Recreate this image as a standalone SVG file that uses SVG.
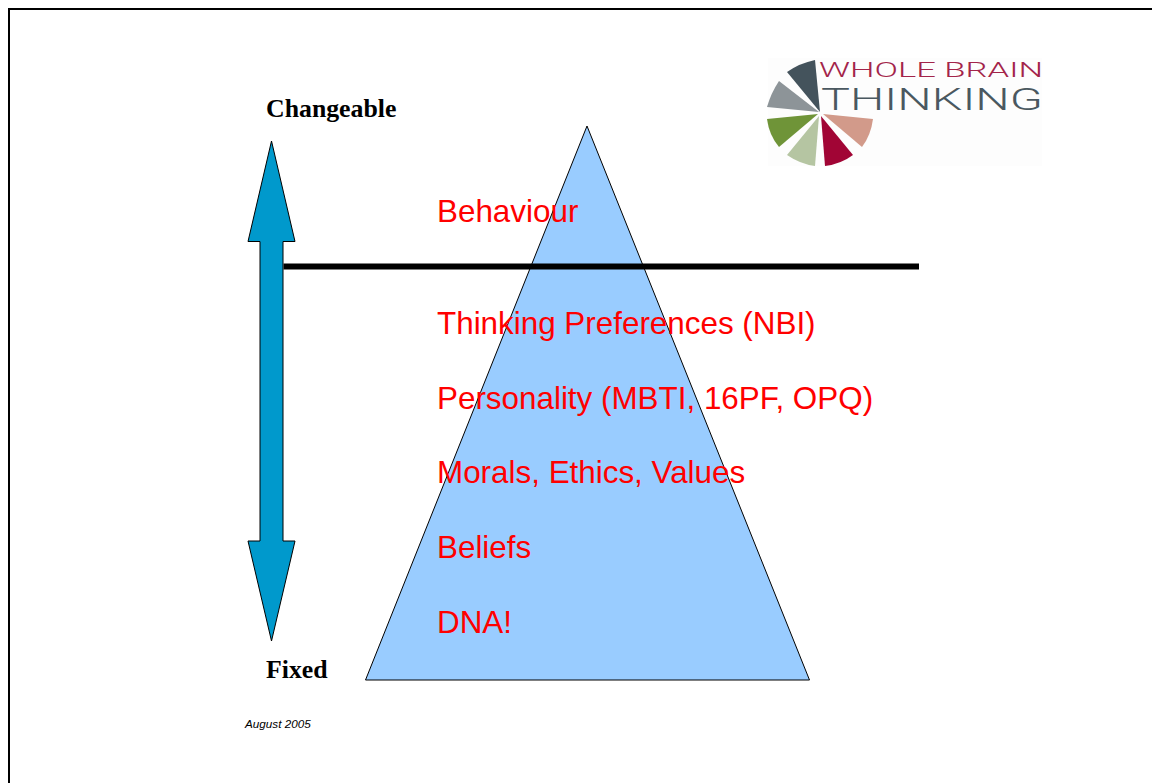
<svg xmlns="http://www.w3.org/2000/svg" width="1152" height="783" viewBox="0 0 1152 783">
<style>
.red{font-family:"Liberation Sans",Arial,sans-serif;font-size:31.4px;fill:#ff0000}
.bold{font-family:"Liberation Serif","Times New Roman",serif;font-size:25.8px;font-weight:bold;fill:#000}
.shape{stroke:#000;stroke-width:1;stroke-linejoin:miter}
.logo{font-family:"Roboto","Liberation Sans",sans-serif;font-weight:300}
</style>
<rect width="1152" height="783" fill="#fff"/>
<path d="M9 783V9H1152" fill="none" stroke="#000" stroke-width="2"/>
<g id="pyramid"><polygon class="shape" points="587,126 809.500,680 365.500,680" fill="#99ccff"/></g>
<g id="scale-arrow"><polygon class="shape" points="271.500,141 295,241.500 283,241.500 283,541 295,541 271.500,641 248,541 260,541 260,241.500 248,241.500" fill="#0099cc"/></g>
<g id="connectors"><line x1="283.500" y1="266.500" x2="919" y2="266.500" stroke="#000" stroke-width="6"/></g>
<g id="label-changeable"><text class="bold" x="266" y="117">Changeable</text></g>
<g id="label-fixed"><text class="bold" x="266" y="678">Fixed</text></g>
<g id="level-behaviour"><text class="red" x="437" y="222">Behaviour</text></g>
<g id="level-thinking"><text class="red" x="437" y="334">Thinking Preferences (NBI)</text></g>
<g id="level-personality"><text class="red" x="437" y="409">Personality (MBTI, 16PF, OPQ)</text></g>
<g id="level-morals"><text class="red" x="437" y="483">Morals, Ethics, Values</text></g>
<g id="level-beliefs"><text class="red" x="437" y="558">Beliefs</text></g>
<g id="level-dna"><text class="red" x="437" y="633">DNA!</text></g>
<g id="date"><text x="245" y="728" font-family="Liberation Sans,Arial,sans-serif" font-size="11.700" font-style="italic" fill="#000">August 2005</text></g>
<g id="logo">
<rect x="768" y="58" width="274" height="108" fill="#fdfdfd"/>
<path d="M820 112L787 72Q800 63 815 60Z" fill="#44535c"/>
<path d="M819 112L779 81Q771 93 767 107Z" fill="#8d9498"/>
<path d="M818 114L767 119Q769 135 779 147Z" fill="#6f9438"/>
<path d="M819 116L787 155Q800 164 815 166Z" fill="#b5c5a2"/>
<path d="M821 116L825 166Q841 164 853 155Z" fill="#a10535"/>
<path d="M823 114L873 119Q871 135 862 147Z" fill="#d29a8a"/>
<text class="logo" x="819" y="76.500" font-size="21" fill="#a3244a" textLength="224" lengthAdjust="spacingAndGlyphs">WHOLE BRAIN</text>
<text class="logo" x="821" y="110" font-size="31" fill="#4a5860" textLength="222" lengthAdjust="spacingAndGlyphs">THINKING</text>
</g>
</svg>
